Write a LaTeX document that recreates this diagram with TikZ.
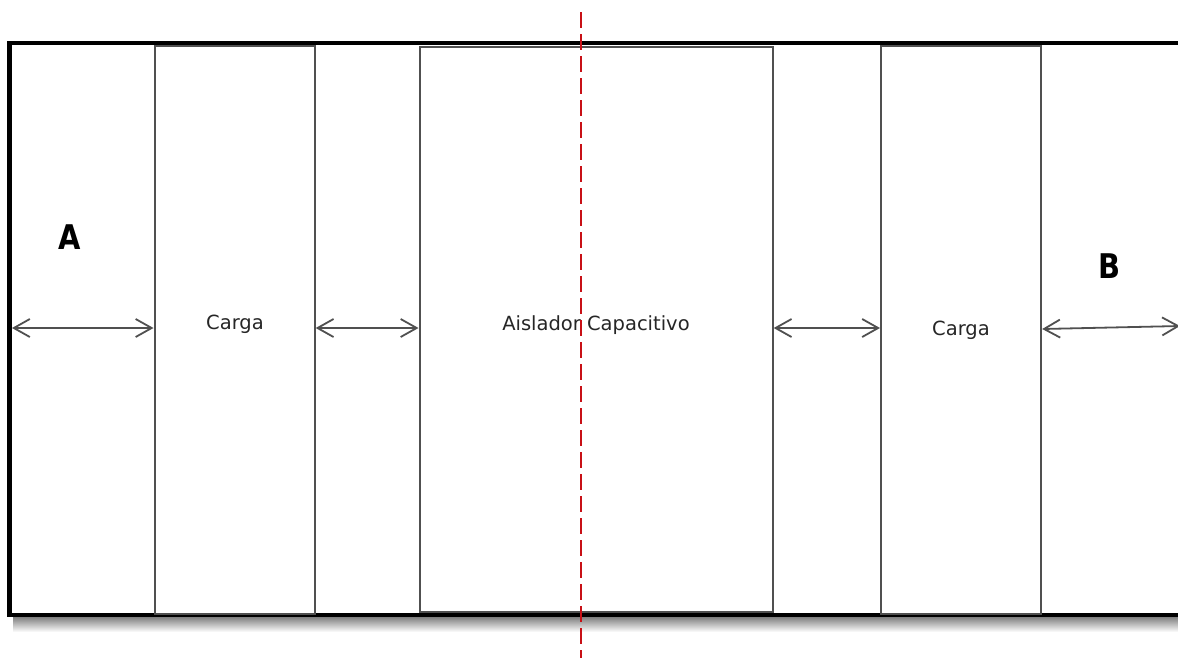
\documentclass[tikz,border=0pt]{standalone}
\usepackage{fontspec}
\setmainfont{DejaVu Sans}
\usetikzlibrary{arrows.meta}
\definecolor{edgegray}{RGB}{80,80,80}
\definecolor{cutred}{RGB}{200,16,22}
\tikzset{
  frameline/.style={draw=black, line width=4.5pt},
  block/.style={draw=edgegray, line width=2.2pt, fill=white, inner sep=0pt},
  blocklabel/.style={font=\fontsize{19.5}{23}\selectfont, text=black!85, inner sep=0pt},
  portlabel/.style={font=\fontsize{34}{40}\selectfont\bfseries, inner sep=0pt},
  link/.style={draw=edgegray, line width=1.8pt,
    {Straight Barb[length=16pt,width=18pt,line width=1.8pt]}-{Straight Barb[length=16pt,width=18pt,line width=1.8pt]}},
  cutline/.style={draw=cutred, line width=2.4pt, dash pattern=on 16pt off 6pt}
}
\begin{document}
\begin{tikzpicture}[x=1pt, y=-1pt]
  \useasboundingbox (0,0) rectangle (1178,657);
  % soft shadow under the outer frame
  \shade[top color=black!50, bottom color=white] (13,617) rectangle (1190,632);
  % outer frame
  \fill[white] (9.5,43) rectangle (1195,615);
  \draw[frameline] (1195,43) -- (9.5,43) -- (9.5,615) -- (1195,615);
  % blocks
  \node[block, minimum width=160pt, minimum height=568pt, anchor=north west] (carga1) at (153.5,44.5) {};
  \node[block, minimum width=353pt, minimum height=565pt, anchor=north west] (aislador) at (418.5,45.5) {};
  \node[block, minimum width=160pt, minimum height=568pt, anchor=north west] (carga2) at (880,44.5) {};
  % labels
  \node[blocklabel] (t1) at (235,324) {Carga};
  \node[blocklabel] (t2) at (596,325) {Aislador Capacitivo};
  \node[blocklabel] (t3) at (961,330) {Carga};
  \node[portlabel] (pa) at (70,237) {\scalebox{0.85}[1]{A}};
  \node[portlabel] (pb) at (1110,266) {\scalebox{0.85}[1]{B}};
  % connection ends at the frame
  \coordinate (left) at (12,328);
  \coordinate (right) at (1180,326);
  % links between blocks
  \draw[link] (left) -- (carga1.west |- left);
  \draw[link] (carga1.east |- 0,328) -- (aislador.west |- 0,328);
  \draw[link] (aislador.east |- 0,328) -- (carga2.west |- 0,328);
  \draw[link] (carga2.east |- 0,329) -- (right);
  % cut line through the isolator
  \coordinate (cuttop) at (581,12);
  \coordinate (cutbot) at (581,660);
  \draw[cutline] (cuttop) -- (cutbot);
\end{tikzpicture}
\end{document}
